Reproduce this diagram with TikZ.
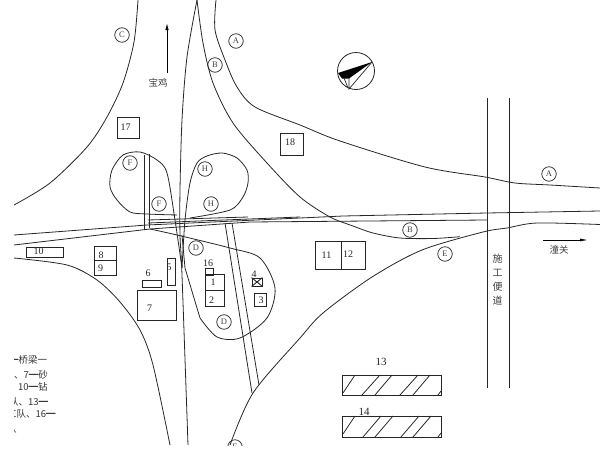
\documentclass[tikz,border=0pt]{standalone}
\usepackage{fontspec}
\usetikzlibrary{arrows.meta}
\setmainfont{Liberation Serif}
\newfontfamily\cjk{Noto Sans CJK SC}
\tikzset{
  road/.style={line width=0.8pt,black!85},
  roadc/.style={road,line join=round},
  box/.style={draw=black!85,line width=0.9pt,rectangle,inner sep=0pt},
  mark label/.style={draw=black!85,circle,line width=0.7pt,minimum size=14.5pt,inner sep=0pt,font=\fontsize{8.5}{8.5}\selectfont,text=black!75},
  plain label/.style={inner sep=0pt,font=\fontsize{10}{10}\selectfont,text=black!85},
  cn label/.style={inner sep=0pt,font=\cjk\fontsize{9.5}{9.5}\selectfont,text=black!75},
  legend line/.style={inner sep=0pt,anchor=west,font=\cjk\fontsize{9.5}{9.5}\selectfont,text=black!80},
  hatchline/.style={line width=0.8pt,black!85},
}
\begin{document}
\begin{tikzpicture}[x=1pt,y=-1pt]
\useasboundingbox (0,0) rectangle (600,450);
\clip (14,0) rectangle (600,445);
% roads
\draw[roadc] plot[smooth] coordinates {(138,0) (134,42) (123,83) (107,117) (87,147) (50,183) (14,205)};
\draw[roadc] plot[smooth] coordinates {(197,0) (187,57) (182,120) (180,190) (180,235) (182,275) (188,445)};
\draw[roadc] plot[smooth] coordinates {(197,0) (203,43) (213,83) (233,123) (267,163) (300,197) (330,217) (353,226) (373,233) (400,238) (433,238.5) (460,236.7)};
\draw[roadc] plot[smooth] coordinates {(216,0) (215,30) (225,60) (237,87) (255,107) (300,125) (340,141) (425,167) (485,177) (515,183) (550,185) (600,188)};
\draw[roadc] plot[smooth] coordinates {(14,258) (67,265) (97,280) (120,302) (140,330) (153,365) (170,445)};
\draw[roadc] plot[smooth] coordinates {(230,445) (253,393) (300,338) (323,313) (372,277) (422,250) (483,232) (507,228) (537,223) (600,224.5)};
% main carriageway
\draw[road] (14,235) -- (147,225) -- (300,218) -- (343,216) -- (487,213) -- (600,211);
\draw[road] (14,245) -- (150,229) -- (250,222) -- (487,220);
\draw[road] (148,220) -- (248,217);
\draw[road] (148,223) -- (300,217);
% loops
\draw[roadc] plot[smooth] coordinates {(182,268) (175,220) (167,173) (157,160) (140,152) (123,155) (112,170) (110,187) (117,200) (130,212) (147,214) (177,215)};
\draw[roadc] plot[smooth] coordinates {(182,268) (185,220) (190,183) (197,163) (207,156) (222,153) (237,158) (247,170) (248,183) (243,197) (230,210) (190,218)};
\draw[roadc] plot[smooth] coordinates {(150,229) (177,235) (230,248) (260,258) (275,288) (267,318) (240,338) (217,337) (200,318)};
\draw[road] (200,318) -- (185,268) -- (182,235);
% paired lines
\draw[road] (144,155) -- (144,230);
\draw[road] (149,154) -- (149,228);
\draw[road] (225,223) -- (252,393);
\draw[road] (232,223) -- (259,385);
\draw[road] (487,98) -- (487,388);
\draw[road] (509,98) -- (509,388);
% arrows
\coordinate (northtail) at (167,73);
\coordinate (northhead) at (167,23);
\coordinate (easttail) at (543,240);
\coordinate (easthead) at (588,240);
\draw[line width=0.9pt,-{Latex[length=7pt,width=3.5pt]}] (northtail) -- (northhead);
\draw[line width=0.8pt,-{Latex[length=8pt,width=3pt]}] (easttail) -- (easthead);
\node[cn label] (baoji) at (158,83) {宝鸡};
\node[cn label] (tongguan) at (559,250) {潼关};
\node[cn label,align=center,font=\cjk\fontsize{10}{14}\selectfont] (sgbd) at (497.5,280) {施\\工\\便\\道};
% circled marks
\node[mark label] (mc) at (122,35) {C};
\node[mark label] (ma1) at (236,41) {A};
\node[mark label] (mb1) at (215,65) {B};
\node[mark label] (mf1) at (130,163) {F};
\node[mark label] (mf2) at (159,204) {F};
\node[mark label] (mh1) at (205,169) {H};
\node[mark label] (mh2) at (211,204) {H};
\node[mark label] (md1) at (196,248) {D};
\node[mark label] (md2) at (224,322) {D};
\node[mark label] (ma2) at (549,174) {A};
\node[mark label] (mb2) at (410,230) {B};
\node[mark label] (me1) at (445,254) {E};
\node[mark label] (me2) at (235,447) {E};
% boxes
\node[box,minimum width=22pt,minimum height=21pt] (b17) at (128,127.5) {};
\node[plain label] (t17) at (125.5,127) {17};
\node[box,minimum width=23pt,minimum height=22pt] (b18) at (291.5,144) {};
\node[plain label] (t18) at (290,142) {18};
\node[box,minimum width=37pt,minimum height=10pt] (b10) at (44.5,252) {};
\node[plain label] (t10) at (38.5,251.5) {10};
\node[box,minimum width=22pt,minimum height=14pt] (b8) at (105,253) {};
\node[plain label] (t8) at (101,255) {8};
\node[box,minimum width=22pt,minimum height=15pt] (b9) at (105,267.5) {};
\node[plain label] (t9) at (100.5,268.5) {9};
\node[box,minimum width=19pt,minimum height=7pt] (b6) at (151.5,283.5) {};
\node[plain label] (t6) at (148,273) {6};
\node[box,minimum width=39pt,minimum height=30pt] (b7) at (156.5,305) {};
\node[plain label] (t7) at (149.5,308) {7};
\node[box,minimum width=8pt,minimum height=27pt] (b5) at (171,271.5) {};
\node[plain label] (t5) at (169,267) {5};
\node[box,minimum width=8pt,minimum height=7pt] (b16) at (209,271.5) {};
\node[plain label] (t16) at (208,263) {16};
\node[box,minimum width=19pt,minimum height=16pt] (b1) at (214.5,282) {};
\node[plain label] (t1) at (213,282) {1};
\node[box,minimum width=19pt,minimum height=16pt] (b2) at (214.5,298) {};
\node[plain label] (t2) at (211.5,300) {2};
\node[box,minimum width=12pt,minimum height=13pt] (b3) at (260,299.5) {};
\node[plain label] (t3) at (261,300) {3};
\node[box,minimum width=10pt,minimum height=8pt] (b4) at (257,282) {};
\draw[line width=0.9pt,black!85] (b4.north west) -- (b4.south east) (b4.north east) -- (b4.south west);
\node[plain label] (t4) at (254,274) {4};
\node[box,minimum width=26pt,minimum height=28pt] (b11) at (328,255) {};
\node[plain label] (t11) at (326.5,255.5) {11};
\node[box,minimum width=24pt,minimum height=28pt] (b12) at (353,255) {};
\node[plain label] (t12) at (348,254) {12};
% hatched yards
\node[box,minimum width=99pt,minimum height=20pt] (b13) at (391.5,385) {};
\node[box,minimum width=99pt,minimum height=21pt] (b14) at (391.5,426.5) {};
\node[plain label,font=\fontsize{11}{11}\selectfont] (t13) at (381,362) {13};
\node[plain label,font=\fontsize{11}{11}\selectfont] (t14) at (364,412) {14};
\draw[hatchline] (343,393) -- (355,375) (362,395) -- (380,375) (375,395) -- (392,375) (400,395) -- (418,375) (413,395) -- (430,375) (438,395) -- (441,391);
\draw[hatchline] (343,434) -- (355,416) (363,437) -- (381,416) (375,437) -- (393,416) (401,437) -- (419,416) (413,437) -- (431,416) (438,437) -- (441,433);
% north symbol
\node[draw=black!85,circle,line width=0.8pt,minimum size=37pt,inner sep=0pt] (northc) at (356,71) {};
\fill[black] (372,62) -- (338,73) -- (342,78.5) -- (349,78.5) -- cycle;
\draw[line width=0.7pt,black!85] (372,62) -- (349,89) -- (349,78);
\draw[line width=0.7pt,black!85] (344,78) -- (348,88);
% legend, cut by the left edge
\node[legend line] (l1) at (9,360) {━桥梁一};
\node[legend line] (l2) at (14,375) {、7━砂};
\node[legend line] (l3) at (18,387) {10━钻};
\node[legend line] (l4) at (9,402) {队、13━};
\node[legend line] (l5) at (7,414) {工队、16━};
\node[legend line] (l6) at (7,429) {队};
\end{tikzpicture}
\end{document}
